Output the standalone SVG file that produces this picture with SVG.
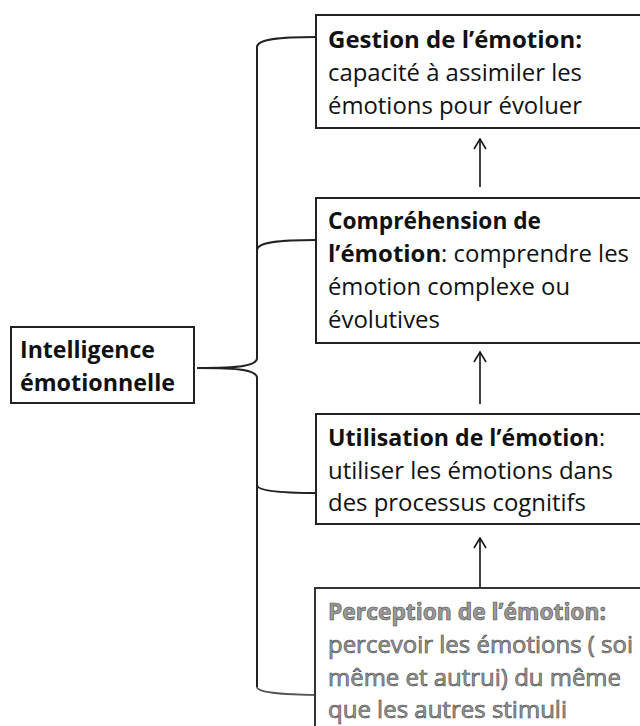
<svg xmlns="http://www.w3.org/2000/svg" width="640" height="726" viewBox="0 0 640 726">
<defs>
<marker id="ah" markerWidth="14" markerHeight="14" refX="11" refY="7" orient="auto" markerUnits="userSpaceOnUse" viewBox="0 0 14 14">
<path d="M1,1 L11,7 L1,13" fill="none" stroke="#111" stroke-width="1.5"/>
</marker>
<style>
.box{fill:#fff;stroke:#222;stroke-width:2}
.t{font-family:"Open Sans","Liberation Sans",sans-serif;font-size:23px;fill:#111}
.b{font-weight:bold}
.p{fill:#9a9a9a;stroke:#4a4a4a;stroke-width:0.6}
.c{fill:none;stroke:#222;stroke-width:2}
.ar{fill:none;stroke:#111;stroke-width:1.6;marker-end:url(#ah)}
</style>
</defs>
<rect width="640" height="726" fill="#fff"/>
<g id="connectors">
<path class="c" d="M316,37 C280,37 257,39 257,47 L257,358"/>
<path class="c" d="M316,240 C280,240 257,242 257,250"/>
<path class="c" d="M197,368 C240,368 257,366 257,358"/>
<path class="c" d="M197,368 C240,368 257,370 257,378 L257,687"/>
<path class="c" d="M257,485 C257,491 282,493 316,493"/>
<path class="c" style="stroke:#555;stroke-width:1.8" d="M257,687 C257,693 290,695 322,695"/>
<line class="ar" x1="480" y1="187" x2="480" y2="139"/>
<line class="ar" x1="480" y1="404" x2="480" y2="352"/>
<line class="ar" x1="480" y1="588" x2="480" y2="538"/>
</g>
<g id="gestion">
<rect class="box" x="316" y="15" width="340" height="113"/>
<text class="t b" x="328" y="48" textLength="254" lengthAdjust="spacingAndGlyphs">Gestion de l’émotion:</text>
<text class="t" x="328" y="81" textLength="254" lengthAdjust="spacingAndGlyphs">capacité à assimiler les</text>
<text class="t" x="328" y="114" textLength="254" lengthAdjust="spacingAndGlyphs">émotions pour évoluer</text>
</g>
<g id="comprehension">
<rect class="box" x="316" y="198" width="340" height="145"/>
<text class="t b" x="328" y="229" textLength="213" lengthAdjust="spacingAndGlyphs">Compréhension de</text>
<text class="t" x="328" y="262" textLength="301" lengthAdjust="spacingAndGlyphs"><tspan class="b">l’émotion</tspan>: comprendre les</text>
<text class="t" x="328" y="295" textLength="242" lengthAdjust="spacingAndGlyphs">émotion complexe ou</text>
<text class="t" x="328" y="328" textLength="112" lengthAdjust="spacingAndGlyphs">évolutives</text>
</g>
<g id="utilisation">
<rect class="box" x="316" y="414" width="340" height="110"/>
<text class="t" x="328" y="446" textLength="277" lengthAdjust="spacingAndGlyphs"><tspan class="b">Utilisation de l’émotion</tspan>:</text>
<text class="t" x="328" y="479" textLength="285" lengthAdjust="spacingAndGlyphs">utiliser les émotions dans</text>
<text class="t" x="328" y="511" textLength="258" lengthAdjust="spacingAndGlyphs">des processus cognitifs</text>
</g>
<g id="perception">
<rect class="box" style="stroke:#333" x="315" y="588" width="340" height="160"/>
<text class="t b p" x="328" y="620" textLength="278" lengthAdjust="spacingAndGlyphs">Perception de l’émotion:</text>
<text class="t p" x="328" y="653" textLength="305" lengthAdjust="spacingAndGlyphs">percevoir les émotions ( soi</text>
<text class="t p" x="328" y="686" textLength="293" lengthAdjust="spacingAndGlyphs">même et autrui) du même</text>
<text class="t p" x="328" y="718" textLength="239" lengthAdjust="spacingAndGlyphs">que les autres stimuli</text>
</g>
<g id="intelligence">
<rect class="box" x="11" y="327" width="183" height="76"/>
<text class="t b" x="20" y="358" textLength="135" lengthAdjust="spacingAndGlyphs">Intelligence</text>
<text class="t b" x="20" y="391" textLength="155" lengthAdjust="spacingAndGlyphs">émotionnelle</text>
</g>
</svg>
